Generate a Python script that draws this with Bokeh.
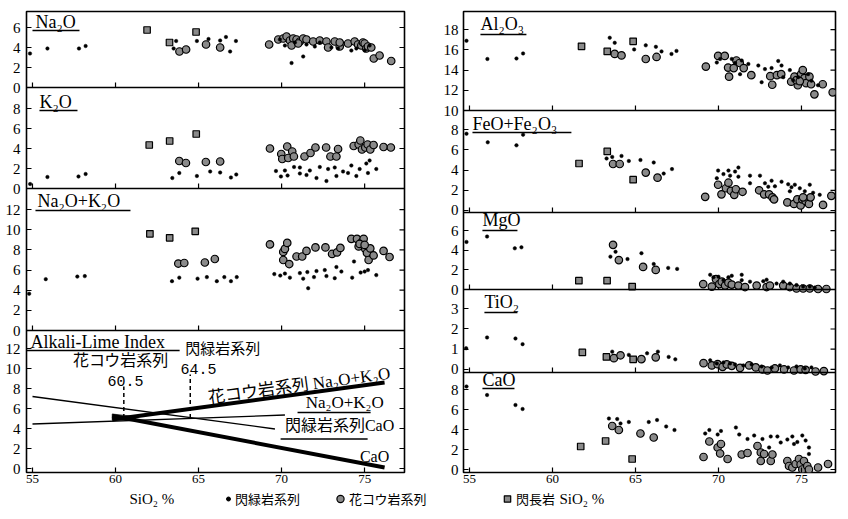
from bokeh.plotting import figure
from bokeh.layouts import row, column
from bokeh.models import (Range1d, FixedTicker, Label, BoxAnnotation,
                          Span, Legend, LegendItem)
from bokeh.embed import file_html
from bokeh.resources import INLINE

# ---------------- data (SiO2 %, oxide %) ----------------
SIO2_TICKS = [55, 60, 65, 70, 75]

NA2O_DIO = [(54.85,3.4),(55.9,3.9),(57.8,3.9),(58.2,4.15),(63.5,3.9),(63.65,4.65),(64.9,4.65),(65.6,4.85),
            (66.3,4.7),(66.65,5.05),(66.9,3.6),(67.25,4.65),(69.9,4.8),(70.2,4.2),(70.6,2.45),(70.8,4.5),
            (71.3,3.1),(71.5,4.3),(72.0,4.1),(72.3,4.5),(73.0,4.0),(73.4,3.9),(74.2,3.7),(74.5,3.9),(75.0,3.7),(75.3,4.2)]
NA2O_GRA = [(63.85,3.6),(64.25,3.8),(65.45,4.3),(66.3,4.0),(69.25,4.3),(69.8,4.8),(70.1,4.9),(70.3,5.1),
            (70.5,4.7),(70.7,4.9),(70.9,4.8),(71.1,4.6),(71.3,4.9),(71.5,4.8),(70.6,4.2),(71.0,4.4),(71.9,4.6),
            (72.3,4.7),(72.7,4.6),(72.8,4.0),(73.2,4.6),(73.5,4.1),(73.5,4.5),(74.0,4.4),(74.4,4.6),(74.6,4.3),
            (74.8,4.2),(74.9,4.5),(75.0,4.4),(75.1,3.9),(75.2,4.1),(75.4,4.0),(75.55,2.9),(75.9,3.2),(76.6,2.65)]
NA2O_SYE = [(61.9,5.75),(63.25,4.5),(64.85,5.55)]

K2O_DIO = [(54.86,0.45),(55.9,1.15),(57.77,1.2),(58.2,1.45),(63.42,1.05),(63.84,1.55),(64.9,1.25),(65.7,1.7),
           (66.3,1.6),(66.95,1.1),(67.27,1.4),(69.66,1.75),(69.96,1.2),(70.2,1.8),(70.36,1.3),(70.75,2.15),
           (71.1,2.1),(71.1,1.5),(71.5,1.35),(71.7,1.8),(72.1,1.05),(72.3,2.15),(72.7,0.75),(72.8,1.95),
           (73.2,2.1),(73.3,1.25),(73.7,1.7),(74.0,1.55),(74.2,2.3),(74.5,1.25),(74.7,1.95),(75.1,2.5),
           (75.3,2.8),(75.2,1.55),(75.7,1.95)]
K2O_GRA = [(63.84,2.75),(64.24,2.55),(65.44,2.65),(66.3,2.7),(69.3,4.0),(69.98,3.45),(70.04,2.95),(70.34,4.2),
           (70.4,3.05),(70.64,3.7),(70.74,3.2),(71.38,3.2),(71.74,3.55),(72.04,4.1),(72.68,4.1),(72.94,3.2),
           (73.3,3.2),(73.4,3.95),(74.34,4.25),(74.64,4.4),(74.74,4.8),(74.84,3.9),(75.04,4.1),(75.18,4.4),
           (75.34,3.9),(75.54,4.35),(76.14,4.15),(76.58,4.1)]
K2O_SYE = [(62.03,4.35),(63.26,4.75),(64.86,5.45)]

NK_DIO = [(54.8,3.65),(55.8,5.1),(57.7,5.35),(58.15,5.4),(63.4,4.9),(63.84,5.25),(64.94,5.15),(65.5,5.3),
          (66.1,4.9),(66.55,5.3),(66.95,4.9),(67.3,5.3),(69.56,5.6),(69.92,5.45),(70.2,5.65),(70.5,5.25),
          (71.1,5.7),(71.3,5.15),(71.6,4.2),(71.55,5.8),(71.95,5.3),(72.1,5.9),(72.6,6.0),(72.7,5.4),(73.3,6.3),
          (73.2,5.2),(73.6,5.85),(74.25,5.25),(74.36,6.85),(74.76,5.75),(75.0,5.85),(75.2,6.0),(75.7,5.5)]
NK_GRA = [(63.78,6.65),(64.14,6.7),(65.38,6.75),(65.98,7.1),(69.3,8.55),(70.1,7.8),(70.2,8.1),(70.34,8.7),
          (70.1,7.0),(70.46,6.6),(70.9,7.35),(71.24,7.35),(71.5,7.9),(72.04,8.25),(72.64,8.25),(73.04,7.6),
          (73.34,7.75),(73.54,8.2),(74.2,9.1),(74.54,9.1),(74.64,8.35),(74.84,8.8),(74.94,9.1),(75.04,8.1),
          (75.14,7.7),(75.24,7.0),(75.34,8.15),(75.54,7.45),(76.14,7.9),(76.5,7.3),(74.7,8.6),(75.0,8.5)]
NK_SYE = [(62.07,9.6),(63.26,9.2),(64.8,9.85)]

AL_DIO = [(54.82,16.9),(56.08,15.1),(57.83,15.15),(58.23,15.65),(63.45,17.2),(63.75,16.7),(64.92,16.05),
          (65.62,16.45),(66.23,16.3),(66.57,15.85),(67.17,15.6),(67.47,15.9),(69.9,14.75),(70.1,15.1),
          (70.8,15.1),(71.0,14.7),(71.3,13.6),(71.4,14.95),(71.8,14.6),(72.4,14.45),(72.6,12.8),(72.8,14.1),
          (73.2,14.2),(73.6,14.9),(73.8,14.45),(73.9,13.3),(74.3,14.0),(74.5,13.0),(74.8,13.3),(75.4,13.6),
          (75.6,12.95),(76.0,12.5)]
AL_GRA = [(63.75,15.6),(64.16,15.45),(65.62,15.1),(66.27,15.3),(69.24,14.35),(69.98,15.4),(70.38,15.4),
          (70.58,14.25),(70.64,13.35),(70.92,14.2),(71.08,14.95),(71.28,14.7),(71.52,14.2),(71.98,13.5),
          (73.12,13.4),(73.24,12.55),(73.52,13.5),(73.78,13.6),(74.38,12.85),(74.58,13.35),(74.78,12.5),
          (74.98,13.6),(75.08,14.0),(75.18,13.2),(75.28,12.7),(75.48,13.35),(75.58,12.6),(75.78,11.6),
          (76.28,12.6),(76.88,11.8),(74.7,13.0),(74.9,12.9)]
AL_SYE = [(61.75,16.35),(63.3,15.85),(64.86,16.85)]

FE_DIO = [(54.82,7.6),(56.1,6.75),(57.83,6.45),(58.23,7.5),(63.26,5.15),(63.6,5.3),(64.16,5.4),(64.6,4.9),
          (65.3,5.0),(66.1,4.75),(66.7,3.65),(67.2,4.1),(69.9,3.2),(69.98,3.95),(70.3,3.6),(70.6,3.95),
          (70.7,3.45),(71.0,3.85),(71.2,3.35),(71.2,4.25),(71.9,3.45),(71.9,2.7),(72.5,3.45),(72.8,2.7),
          (73.0,2.35),(73.2,2.95),(73.4,2.4),(73.8,2.85),(74.2,2.6),(74.3,1.9),(74.4,2.3),(74.6,2.55),
          (74.9,2.2),(75.2,1.9),(75.5,2.55),(75.7,1.75),(76.1,1.55)]
FE_GRA = [(63.65,4.6),(64.05,4.6),(65.62,3.75),(66.33,3.25),(69.2,1.35),(69.98,2.55),(70.18,1.6),(70.45,2.2),
          (70.6,2.75),(70.75,1.95),(70.95,1.55),(71.05,2.1),(71.45,1.85),(72.45,2.0),(72.75,1.6),(73.05,1.6),
          (73.25,1.3),(73.35,1.1),(74.15,0.8),(74.55,0.65),(74.75,1.1),(74.95,0.5),(75.05,1.1),(75.25,0.95),
          (75.45,0.65),(75.55,1.3),(76.3,0.55),(76.8,1.45),(75.1,1.3)]
FE_SYE = [(61.6,4.65),(63.3,5.85),(64.86,3.05)]

MG_DIO = [(54.82,4.85),(56.06,5.4),(57.73,4.2),(58.13,4.3),(63.49,3.35),(63.8,3.85),(64.52,3.1),(65.36,3.7),
          (66.1,2.6),(66.97,2.2),(67.51,2.1),(69.5,1.5),(69.7,1.25),(70.0,1.3),(70.3,0.95),(70.6,1.25),
          (70.8,1.4),(71.4,1.5),(71.4,0.95),(71.9,0.8),(72.7,0.85),(72.9,1.0),(73.5,0.6),(73.9,0.8),(74.3,0.6),
          (74.7,0.45),(75.1,0.3),(75.5,0.3),(75.8,0.2)]
MG_GRA = [(63.65,4.55),(64.0,3.0),(65.46,2.3),(66.22,2.0),(69.08,0.55),(69.6,0.3),(69.85,1.05),(70.05,0.55),
          (70.2,0.8),(70.4,0.4),(70.6,0.7),(70.8,0.5),(71.2,0.4),(71.6,0.25),(72.3,0.4),(72.9,0.25),(73.1,0.4),
          (73.9,0.4),(74.3,0.25),(74.7,0.1),(75.1,0.1),(75.5,0.1),(76.0,0.05),(76.5,0.05)]
MG_SYE = [(61.59,0.9),(63.29,0.9),(64.8,0.3)]

TI_DIO = [(54.8,1.05),(56.06,1.58),(57.77,1.53),(58.2,1.25),(63.6,0.88),(64.6,0.72),(65.7,0.8),(66.35,0.88),
          (67.0,0.62),(67.4,0.5),(69.5,0.45),(69.9,0.3),(70.3,0.35),(70.7,0.3),(71.0,0.25),(71.5,0.2),
          (72.0,0.25),(72.6,0.15),(73.2,0.1),(73.7,0.2),(74.2,0.1),(74.7,0.15),(75.2,0.05),(75.6,0.1)]
TI_GRA = [(63.7,0.56),(64.1,0.7),(65.36,0.51),(66.22,0.6),(69.1,0.31),(69.6,0.2),(69.95,0.26),(70.25,0.13),
          (70.5,0.25),(70.8,0.18),(71.3,0.08),(71.85,0.2),(72.25,0.1),(72.65,0.0),(72.95,-0.05),(73.4,0.05),
          (73.95,0.0),(74.55,-0.05),(74.95,0.0),(75.25,-0.02),(75.85,-0.1),(76.35,-0.08)]
TI_SYE = [(61.8,0.84),(63.25,0.62),(64.86,0.5)]

CA_DIO = [(54.82,8.3),(56.06,7.45),(57.77,6.45),(58.2,6.05),(63.4,5.1),(63.9,5.05),(64.1,4.6),(64.6,4.75),
          (65.8,4.75),(66.3,4.95),(66.85,4.3),(67.35,3.95),(69.2,3.6),(69.45,3.95),(69.95,3.5),(70.15,3.85),
          (71.05,4.2),(71.25,3.5),(71.75,3.05),(72.15,3.4),(72.65,3.05),(73.05,2.2),(73.15,3.3),(73.55,3.3),
          (73.75,2.7),(74.15,3.0),(74.45,3.3),(74.55,2.55),(74.75,2.75),(75.05,3.4),(75.25,2.9),(75.45,2.2),
          (75.45,1.55)]
CA_GRA = [(63.6,4.35),(64.0,3.95),(65.3,3.6),(66.1,3.2),(69.1,1.25),(69.45,2.8),(69.95,2.2),(70.15,2.55),
          (70.1,1.6),(70.55,1.05),(71.4,1.5),(71.75,1.65),(72.35,2.35),(72.55,1.7),(72.75,1.55),(72.55,0.85),
          (73.15,0.85),(73.25,1.5),(74.15,0.85),(74.25,0.35),(74.45,0.2),(74.65,0.55),(74.85,1.05),(74.95,0.5),
          (75.05,0.0),(75.15,0.85),(75.35,0.35),(75.45,0.0),(76.0,0.2),(76.6,0.55)]
CA_SYE = [(61.7,2.3),(63.2,2.85),(64.8,1.05)]

# Alkali-Lime index trend lines
ALI_DIO_NK_X = [55.0, 70.2]
ALI_DIO_NK_Y = [4.45, 5.35]
ALI_DIO_CAO_X = [55.0, 69.6]
ALI_DIO_CAO_Y = [7.2, 3.95]
ALI_GRA_NK_X = [59.8, 76.2]
ALI_GRA_NK_Y = [4.9, 8.6]
ALI_GRA_CAO_X = [59.8, 76.2]
ALI_GRA_CAO_Y = [5.28, 0.1]
ALI_INDEX_X = [60.5, 64.5]
ALI_INDEX_LOW = [5.06, 5.05]
ALI_INDEX_HIGH = [8.2, 9.4]
ALI_BAND_X = [59.8, 61.2, 61.2, 59.8]
ALI_BAND_Y = [5.45, 5.2, 4.95, 4.85]

SERIES_LABELS = ["閃緑岩系列", "花コウ岩系列", "閃長岩"]

# ---------------- styling ----------------
SERIF = "'Liberation Serif', 'DejaVu Serif', serif"
JP = "'Noto Sans CJK JP', sans-serif"
MIX = "'Liberation Serif', 'Noto Sans CJK JP', serif"
MONO = "'Liberation Mono', monospace"
GRAY = "#8a8a8a"
FRAME_H = 461
TOP, BOTTOM = 11, 17
X0 = 54.64


def xs(pts):
    return [p[0] for p in pts]


def ys(pts):
    return [p[1] for p in pts]


def base_figure(frame_w, x_end, b_left, b_right):
    p = figure(width=b_left + frame_w + b_right, height=TOP + FRAME_H + BOTTOM,
               x_range=Range1d(X0, x_end), y_range=Range1d(0, FRAME_H),
               output_backend="svg", toolbar_location=None,
               min_border_left=b_left, min_border_right=b_right,
               min_border_top=TOP, min_border_bottom=BOTTOM)
    p.xgrid.visible = False
    p.ygrid.visible = False
    p.outline_line_color = "black"
    p.outline_line_width = 1.6
    p.outline_line_alpha = 1
    p.background_fill_color = "white"
    p.border_fill_color = "white"
    xa = p.xaxis[0]
    xa.ticker = FixedTicker(ticks=SIO2_TICKS)
    xa.major_label_text_font = SERIF
    xa.major_label_text_font_size = "13px"
    xa.major_label_text_color = "black"
    xa.major_label_standoff = 2
    xa.major_tick_in = 5
    xa.major_tick_out = 0
    xa.minor_tick_in = 0
    xa.minor_tick_out = 0
    xa.axis_line_color = None
    xa.major_tick_line_color = "black"
    xa.major_tick_line_width = 1.2
    return p


def add_panels(p, panels, standoff, frame_w, x_end):
    positions, overrides, subs = [], {}, {}
    for pan in panels:
        lo, hi, b0, b1 = pan["lo"], pan["hi"], pan["b0"], pan["b1"]
        subs[pan["name"]] = p.subplot(x_source=p.x_range, y_source=Range1d(lo, hi),
                                      x_target=p.x_range, y_target=Range1d(b0, b1))
        for t in pan["ticks"]:
            pos = round(b0 + (t - lo) * (b1 - b0) / (hi - lo), 2)
            positions.append(pos)
            overrides[pos] = str(t)
    ya = p.yaxis[0]
    ya.ticker = FixedTicker(ticks=positions)
    ya.major_label_overrides = overrides
    ya.major_label_text_font = SERIF
    ya.major_label_text_font_size = "15px"
    ya.major_label_text_color = "black"
    ya.major_label_standoff = standoff
    ya.major_tick_in = 5
    ya.major_tick_out = 0
    ya.minor_tick_in = 0
    ya.minor_tick_out = 0
    ya.axis_line_color = None
    ya.major_tick_line_width = 1.2
    # inward tick marks on the right edge at the same tick positions
    tick_len = 5 * (x_end - X0) / frame_w
    p.segment(x0=[x_end - tick_len] * len(positions), y0=positions,
              x1=[x_end] * len(positions), y1=positions, line_color="black", line_width=1.2)
    # panel separators with upward x-ticks
    bounds = sorted(set(pan["b0"] for pan in panels) - {0})
    for b in bounds:
        p.add_layout(Span(location=b, dimension="width", line_color="black", line_width=1.6))
    tx = [x for b in bounds for x in SIO2_TICKS]
    ty0 = [b for b in bounds for x in SIO2_TICKS]
    ty1 = [b + 5 for b in bounds for x in SIO2_TICKS]
    p.segment(x0=tx, y0=ty0, x1=tx, y1=ty1, line_color="black", line_width=1.2)
    return subs


def plot_series(sub, gra, sye, dio):
    sub.scatter(xs(gra), ys(gra), marker="circle", size=7.5, fill_color=GRAY,
                line_color="black", line_width=1.2)
    sub.scatter(xs(sye), ys(sye), marker="square", size=6.5, fill_color=GRAY,
                line_color="black", line_width=1.2)
    sub.scatter(xs(dio), ys(dio), marker="circle", size=3.5, fill_color="black",
                line_color="black", line_width=0.5)


def label(p, text, x, y, size, font=SERIF, align="left", baseline="middle", angle=0):
    p.add_layout(Label(x=x, y=y, text=text, text_font=font, text_font_size=size,
                       text_align=align, text_baseline=baseline, text_color="black",
                       angle=angle))


def underline(p, x0, x1, y):
    p.add_layout(BoxAnnotation(left=x0, right=x1, bottom=y - 0.7, top=y + 0.7,
                               fill_color="black", fill_alpha=1, line_color=None))


# ---------------- left column ----------------
LEFT_PANELS = [
    dict(name="na2o", lo=0, hi=7.6, b0=385, b1=461, ticks=[0, 2, 4, 6]),
    dict(name="k2o", lo=0, hi=10.1, b0=284, b1=385, ticks=[0, 2, 4, 6, 8]),
    dict(name="nk", lo=0, hi=14.1, b0=142, b1=284, ticks=[0, 2, 4, 6, 8, 10, 12]),
    dict(name="ali", lo=-0.4, hi=13.8, b0=0, b1=142, ticks=[0, 2, 4, 6, 8, 10, 12]),
]
L_W, L_XEND = 378, 77.4
left = base_figure(L_W, L_XEND, 26, 4)
ls = add_panels(left, LEFT_PANELS, 6, L_W, L_XEND)
plot_series(ls["na2o"], NA2O_GRA, NA2O_SYE, NA2O_DIO)
plot_series(ls["k2o"], K2O_GRA, K2O_SYE, K2O_DIO)
plot_series(ls["nk"], NK_GRA, NK_SYE, NK_DIO)

ali = ls["ali"]
ali.patch(ALI_BAND_X, ALI_BAND_Y, fill_color="#777777", line_color="black", line_width=0.6)
ali.line(ALI_DIO_NK_X, ALI_DIO_NK_Y, line_color="black", line_width=1.3)
ali.line(ALI_DIO_CAO_X, ALI_DIO_CAO_Y, line_color="black", line_width=1.3)
ali.line(ALI_GRA_NK_X, ALI_GRA_NK_Y, line_color="black", line_width=4)
ali.line(ALI_GRA_CAO_X, ALI_GRA_CAO_Y, line_color="black", line_width=4)
ali.segment(x0=ALI_INDEX_X, y0=ALI_INDEX_LOW, x1=ALI_INDEX_X, y1=ALI_INDEX_HIGH,
            line_color="black", line_width=1.5, line_dash="4 3")

label(left, "Na₂O", 55.18, 451, "18px")
underline(left, 55.0, 57.83, 442)
label(left, "K₂O", 55.42, 370.5, "18px")
underline(left, 55.42, 57.71, 362)
label(left, "Na₂O+K₂O", 55.3, 271.5, "18px")
underline(left, 55.18, 60.9, 262)
label(left, "Alkali-Lime Index", 54.88, 131, "18px")
underline(left, X0, 63.86, 122)
label(left, "閃緑岩系列", 66.45, 125, "15px", JP, "center")
label(left, "花コウ岩系列", 60.33, 114, "16px", JP, "center")
label(left, f"{ALI_INDEX_X[0]}", 60.6, 92, "15px", MONO, "center")
label(left, f"{ALI_INDEX_X[1]}", 65.0, 104, "15px", MONO, "center")
label(left, "花コウ岩系列 Na₂O+K₂O", 71.08, 87, "17px", MIX, "center", "middle", 0.136)
label(left, "Na₂O+K₂O", 73.8, 70, "17px", SERIF, "center")
underline(left, 70.96, 75.36, 60)
label(left, "閃緑岩系列CaO", 73.49, 47, "16px", MIX, "center")
underline(left, 69.94, 75.18, 33.5)
label(left, "CaO", 75.6, 16, "16px", SERIF, "center")

# ---------------- right column ----------------
RIGHT_PANELS = [
    dict(name="al", lo=10, hi=19.8, b0=362, b1=461, ticks=[10, 12, 14, 16, 18]),
    dict(name="fe", lo=-0.2, hi=9.9, b0=260, b1=362, ticks=[0, 2, 4, 6, 8]),
    dict(name="mg", lo=0, hi=7.85, b0=183, b1=260, ticks=[0, 2, 4, 6]),
    dict(name="ti", lo=-0.15, hi=3.95, b0=100, b1=183, ticks=[0, 1, 2, 3]),
    dict(name="ca", lo=-0.3, hi=9.7, b0=0, b1=100, ticks=[0, 2, 4, 6, 8]),
]
R_W, R_XEND = 372, 77.05
right = base_figure(R_W, R_XEND, 55, 2)
rs = add_panels(right, RIGHT_PANELS, 5, R_W, R_XEND)
plot_series(rs["al"], AL_GRA, AL_SYE, AL_DIO)
plot_series(rs["fe"], FE_GRA, FE_SYE, FE_DIO)
plot_series(rs["mg"], MG_GRA, MG_SYE, MG_DIO)
plot_series(rs["ti"], TI_GRA, TI_SYE, TI_DIO)
plot_series(rs["ca"], CA_GRA, CA_SYE, CA_DIO)

label(right, "Al₂O₃", 55.66, 449, "18px")
underline(right, 55.66, 58.43, 438)
label(right, "FeO+Fe₂O₃", 55.18, 349, "18px")
underline(right, 55.18, 61.14, 340)
label(right, "MgO", 55.78, 253, "18px")
underline(right, 55.78, 57.89, 242)
label(right, "TiO₂", 55.9, 171, "18px")
underline(right, 55.9, 57.89, 160)
label(right, "CaO", 55.78, 92.5, "18px")
underline(right, 55.78, 57.71, 84)

# ---------------- bottom strip: axis titles + legend ----------------
STRIP_H = 19
STRIP_W = 837
strip = figure(width=STRIP_W, height=STRIP_H, x_range=Range1d(0, STRIP_W), y_range=Range1d(0, STRIP_H),
               output_backend="svg", toolbar_location=None, min_border=0,
               x_axis_location=None, y_axis_location=None)
strip.outline_line_color = None
strip.xgrid.visible = False
strip.ygrid.visible = False
label(strip, "SiO₂ %", 129, 10, "15px", SERIF, "left")
label(strip, "SiO₂ %", 559, 10, "15px", SERIF, "left")

# legend proxies (a single point outside the visible strip)
r_dio = strip.scatter(x=[-100], y=[-100], marker="circle", size=3.5, fill_color="black", line_color="black")
r_gra = strip.scatter(x=[-100], y=[-100], marker="circle", size=7.5, fill_color=GRAY, line_color="black", line_width=1.2)
r_sye = strip.scatter(x=[-100], y=[-100], marker="square", size=6.5, fill_color=GRAY, line_color="black", line_width=1.2)

for rend, lab, loc, gw, stand in [(r_dio, SERIES_LABELS[0], (223, 0), 10, 2),
                                  (r_gra, SERIES_LABELS[1], (331, 0), 18, 0),
                                  (r_sye, SERIES_LABELS[2], (499, 0), 16, 1)]:
    lg = Legend(items=[LegendItem(label=lab, renderers=[rend])], location=loc,
                orientation="horizontal", glyph_width=gw, glyph_height=STRIP_H, label_height=STRIP_H,
                label_standoff=stand, padding=0, margin=0, border_line_color=None,
                background_fill_alpha=0, label_text_font=JP, label_text_font_size="13px",
                label_text_color="black")
    strip.add_layout(lg)

layout = column(row(left, right), strip)

with open("out.html", "w", encoding="utf-8") as f:
    f.write(file_html(layout, INLINE, title="SiO2 variation diagram"))
